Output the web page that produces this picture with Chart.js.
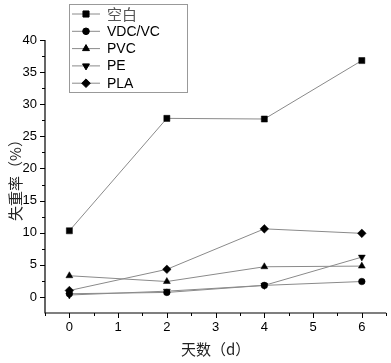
<!DOCTYPE html>
<html>
<head>
<meta charset="utf-8">
<script src="https://cdn.jsdelivr.net/npm/chart.js@4/dist/chart.umd.min.js"></script>
<style>
  html, body { margin: 0; padding: 0; background: #fff; }
  #wrap { width: 391px; height: 363px; position: relative; }
</style>
</head>
<body>
<div id="wrap"><canvas id="chart" width="391" height="363"></canvas></div>
<script>
const days = [0, 2, 4, 6];
const seriesNames = ["空白", "VDC/VC", "PVC", "PE", "PLA"];
const blank = [10.3, 27.8, 27.7, 36.8];
const vdcvc = [0.5, 0.7, 1.8, 2.4];
const pvc = [3.3, 2.4, 4.7, 4.8];
const pe = [0.3, 0.9, 1.8, 6.2];
const pla = [1.0, 4.3, 10.6, 9.9];
const xTicks = [0, 1, 2, 3, 4, 5, 6];
const yTicks = [0, 5, 10, 15, 20, 25, 30, 35, 40];

const markers = [
  { style: "rect", radius: 4.3, rotation: 0 },
  { style: "circle", radius: 3.3, rotation: 0 },
  { style: "triangle", radius: 4, rotation: 0 },
  { style: "triangle", radius: 4, rotation: 180 },
  { style: "rectRot", radius: 4.3, rotation: 0 }
];
const allValues = [blank, vdcvc, pvc, pe, pla];

const datasets = allValues.map((vals, i) => ({
  label: seriesNames[i],
  data: vals.map((v, j) => ({ x: days[j], y: v })),
  borderColor: "#8a8a8a",
  borderWidth: 1,
  backgroundColor: "#000",
  pointBackgroundColor: "#000",
  pointBorderColor: "#000",
  pointBorderWidth: 0.5,
  pointStyle: markers[i].style,
  pointRadius: markers[i].radius,
  pointRotation: markers[i].rotation,
  tension: 0
}));

// axis ticks (major + minor) and legend box, drawn Origin style
const originStyle = {
  id: "originStyle",
  afterDraw(chart) {
    const ctx = chart.ctx;
    const xs = chart.scales.x, ys = chart.scales.y;
    const ca = chart.chartArea;
    ctx.save();
    ctx.strokeStyle = "#000";
    ctx.lineWidth = 1.2;
    ctx.beginPath();
    ctx.moveTo(ca.left, ca.top);
    ctx.lineTo(ca.left, ca.bottom);
    ctx.lineTo(ca.right, ca.bottom);
    ctx.stroke();
    ctx.lineWidth = 1;
    ctx.beginPath();
    for (let v = -0.5; v <= 6.5; v += 0.5) {
      const px = Math.round(xs.getPixelForValue(v)) + 0.5;
      const len = Number.isInteger(v) ? 5 : 3;
      ctx.moveTo(px, ca.bottom);
      ctx.lineTo(px, ca.bottom + len);
    }
    for (let v = 0; v <= 40; v += 2.5) {
      const py = Math.round(ys.getPixelForValue(v)) + 0.5;
      const len = v % 5 === 0 ? 5 : 3;
      ctx.moveTo(ca.left, py);
      ctx.lineTo(ca.left - len, py);
    }
    ctx.stroke();

    // legend
    const bx = 69.5, by = 4.5, bw = 118, bh = 88;
    ctx.strokeStyle = "#999";
    ctx.lineWidth = 1;
    ctx.strokeRect(bx, by, bw, bh);
    ctx.textBaseline = "middle";
    chart.data.datasets.forEach((ds, i) => {
      const y = 14 + i * 17.3;
      ctx.strokeStyle = "#8a8a8a";
      ctx.lineWidth = 1;
      ctx.beginPath();
      ctx.moveTo(72, y);
      ctx.lineTo(100, y);
      ctx.stroke();
      ctx.fillStyle = "#000";
      ctx.strokeStyle = "#000";
      Chart.helpers.drawPoint(ctx, {
        pointStyle: ds.pointStyle,
        radius: ds.pointRadius,
        rotation: ds.pointRotation,
        borderWidth: 0.5
      }, 86, y);
      ctx.fillStyle = i === 0 ? "#555" : "#000";
      ctx.font = i === 0 ? "15px 'Noto Sans CJK SC'" : "14px 'Liberation Sans', Arial";
      ctx.fillText(ds.label, 107, y + 0.5);
    });
    ctx.restore();
  }
};

new Chart(document.getElementById("chart"), {
  type: "line",
  data: { datasets },
  options: {
    responsive: false,
    animation: false,
    layout: { padding: { top: 40, right: 4, left: 0, bottom: 0 } },
    plugins: { legend: { display: false }, tooltip: { enabled: false } },
    scales: {
      x: {
        type: "linear",
        min: -0.5,
        max: 6.5,
        afterBuildTicks: s => { s.ticks = xTicks.map(v => ({ value: v })); },
        afterFit: s => { s.height = 50; },
        grid: { display: false, drawTicks: false },
        border: { display: false },
        ticks: { color: "#000", font: { family: "'Liberation Sans', Arial", size: 13 }, padding: 7, maxRotation: 0 },
        title: {
          display: true,
          text: "天数（d）",
          color: "#222",
          font: { family: "'Noto Sans CJK SC'", size: 15 },
          padding: { top: 0, bottom: 5 }
        }
      },
      y: {
        type: "linear",
        min: -2.5,
        max: 40,
        afterBuildTicks: s => { s.ticks = yTicks.map(v => ({ value: v })); },
        afterFit: s => { s.width = 45; },
        grid: { display: false, drawTicks: false },
        border: { display: false },
        ticks: { color: "#000", font: { family: "'Liberation Sans', Arial", size: 13 }, padding: 8 },
        title: {
          display: true,
          text: "失重率（%）",
          color: "#222",
          font: { family: "'Noto Sans CJK SC'", size: 15 },
          padding: { top: 6, bottom: 0 }
        }
      }
    }
  },
  plugins: [originStyle]
});
</script>
</body>
</html>
